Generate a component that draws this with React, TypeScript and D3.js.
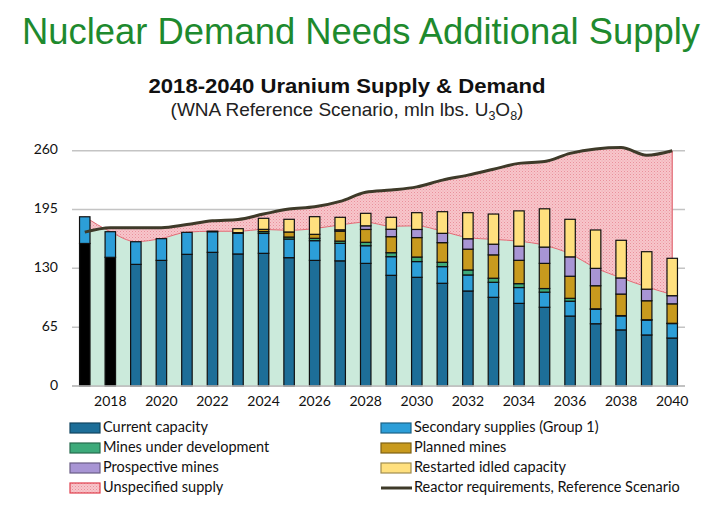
import React from "react";
import * as d3 from "d3";

// ---------- data (mln lbs U3O8) ----------
const years = [2017, 2018, 2019, 2020, 2021, 2022, 2023, 2024, 2025, 2026, 2027, 2028,
  2029, 2030, 2031, 2032, 2033, 2034, 2035, 2036, 2037, 2038, 2039, 2040];
const historicalYears = [2017, 2018];
const tickYears = [2018, 2020, 2022, 2024, 2026, 2028, 2030, 2032, 2034, 2036, 2038, 2040];
const yTicks = [0, 65, 130, 195, 260];

const currentCapacity = [157.5, 142.2, 134.4, 138.8, 145.5, 147.7, 145.9, 146.6, 141.8, 138.8, 138.3, 135.5,
  122.3, 120.1, 113.5, 105, 98, 91.3, 87, 77.3, 68.8, 62, 56.4, 53];
const secondarySupplies = [29.5, 28.3, 25, 24, 24.3, 22.8, 22.8, 22, 20.6, 21.8, 19.3, 19.5,
  20.6, 17.4, 18.4, 17.7, 16.6, 17.5, 16.7, 16.4, 16, 15.5, 16.5, 16];
const minesUnderDevelopment = [0, 0, 0, 0, 0, 0.6, 0.8, 2, 2.2, 2.6, 2.5, 3.8,
  4.4, 5, 4.8, 5.5, 4.5, 4.3, 4, 3.2, 0.5, 0.3, 0.3, 0.3];
const plannedMines = [0, 0, 0, 0, 0, 0, 0, 2.5, 5.6, 4.4, 11, 14.2,
  17.7, 21.5, 21.7, 23, 25.8, 25.8, 27.8, 24.4, 25.5, 23.8, 21, 21.5];
const prospectiveMines = [0, 0, 0, 0, 0, 0, 0, 0, 0, 0, 1.5, 4,
  8.2, 9, 10.3, 11.5, 11.8, 15.6, 18, 21.4, 19.2, 17.8, 12.8, 9];
const restartedIdled = [0, 0, 0, 0, 0, 0, 4.3, 12.2, 14, 19.5, 13.8, 13.8,
  13.2, 18.5, 23.9, 28.8, 33.3, 39, 42.3, 41.5, 42.4, 41.6, 41.4, 41.3];
// lower edge of unspecified supply (top of the identified-supply area)
const identifiedSupply = [187, 170.5, 159.5, 163, 170, 171, 171, 173, 172, 174, 178, 181,
  176.5, 177, 171, 164, 162, 160, 155.5, 146, 130.5, 119.5, 109.5, 101];
const reactorRequirements = [170, 175, 175, 175, 178.5, 182.5, 184, 190, 195.5, 198, 204, 214,
  216.5, 220, 227.5, 233, 239.5, 246, 248, 257, 262, 263.5, 255, 260];

const seriesKeys = ["current", "secondary", "mud", "planned", "prospective", "restarted"];
const seriesLabels = ["Current capacity", "Secondary supplies (Group 1)", "Mines under development",
  "Planned mines", "Prospective mines", "Restarted idled capacity"];
const seriesColors = ["#1D6E98", "#2C9ED8", "#3DAA7A", "#C89A1E", "#A895D4", "#FFE07E"];
const historicalColor = "#000000";

export default function App() {
  const W = 725, H = 507;
  const left = 72, right = 685, y0 = 386, yTop = 150.7;

  const x = d3.scaleBand<number>().domain(years).range([left, right])
    .paddingInner(0.59).paddingOuter(0.295);
  const y = d3.scaleLinear().domain([0, 260]).range([y0, yTop]);
  const cx = (yr: number) => (x(yr) as number) + x.bandwidth() / 2;

  const rows = years.map((yr, i) => ({
    year: yr,
    current: currentCapacity[i],
    secondary: secondarySupplies[i],
    mud: minesUnderDevelopment[i],
    planned: plannedMines[i],
    prospective: prospectiveMines[i],
    restarted: restartedIdled[i],
  }));
  const stacked = d3.stack<any>().keys(seriesKeys)(rows);

  const pts = years.map((yr, i) => ({ yr, id: identifiedSupply[i], re: reactorRequirements[i] }));
  const curve = d3.curveMonotoneX;
  const greenArea = d3.area<any>().x((d) => cx(d.yr)).y0(y(0)).y1((d) => y(d.id)).curve(curve)(pts)!;
  const pinkArea = d3.area<any>().x((d) => cx(d.yr)).y0((d) => y(d.id)).y1((d) => y(d.re)).curve(curve)(pts)!;
  const idLine = d3.line<any>().x((d) => cx(d.yr)).y((d) => y(d.id)).curve(curve)(pts)!;
  const reLine = d3.line<any>().x((d) => cx(d.yr)).y((d) => y(d.re)).curve(curve)(pts)!;
  const lastX = cx(years[years.length - 1]);

  const font = "Lato, 'Open Sans', sans-serif";
  const arial = "'Liberation Sans', Arial, sans-serif";

  const legendItems = [
    { label: seriesLabels[0], kind: "rect", color: seriesColors[0], col: 0, row: 0 },
    { label: seriesLabels[1], kind: "rect", color: seriesColors[1], col: 1, row: 0 },
    { label: seriesLabels[2], kind: "rect", color: seriesColors[2], col: 0, row: 1 },
    { label: seriesLabels[3], kind: "rect", color: seriesColors[3], col: 1, row: 1 },
    { label: seriesLabels[4], kind: "rect", color: seriesColors[4], col: 0, row: 2 },
    { label: seriesLabels[5], kind: "rect", color: seriesColors[5], col: 1, row: 2 },
    { label: "Unspecified supply", kind: "pink", color: "#F5C1C6", col: 0, row: 3 },
    { label: "Reactor requirements, Reference Scenario", kind: "line", color: "#3E3A29", col: 1, row: 3 },
  ];
  const legCols = [70, 381];
  const legRows = [428, 448, 468, 488];

  return (
    <svg width={W} height={H} style={{ position: "absolute", left: 0, top: 0, background: "#fff" }}>
      <defs>
        <pattern id="pinkDots" width="3" height="3" patternUnits="userSpaceOnUse">
          <rect width="3" height="3" fill="#F7C6CB" />
          <rect x="0" y="0" width="1" height="1" fill="#EA909B" />
          <rect x="1.5" y="1.5" width="1" height="1" fill="#EFA3AC" />
        </pattern>
      </defs>

      {/* titles */}
      <text x={22} y={44} fontFamily={arial} fontSize={36} fill="#1E8A2E"
        textLength={678} lengthAdjust="spacingAndGlyphs">Nuclear Demand Needs Additional Supply</text>
      <text x={347} y={93} textAnchor="middle" fontFamily={arial} fontSize={20.5} fontWeight="bold" fill="#111"
        textLength={397} lengthAdjust="spacingAndGlyphs">2018-2040 Uranium Supply &amp; Demand</text>
      <text x={347} y={116} textAnchor="middle" fontFamily={arial} fontSize={19} fill="#222">
        (WNA Reference Scenario, mln lbs. U
        <tspan fontSize={12.5} dy={4}>3</tspan>
        <tspan dy={-4}>O</tspan>
        <tspan fontSize={12.5} dy={4}>8</tspan>
        <tspan dy={-4}>)</tspan>
      </text>

      {/* gridlines */}
      {yTicks.map((t) => (
        <line key={t} x1={left} x2={right} y1={y(t)} y2={y(t)} stroke="#C4C4C4" strokeWidth={1.5} />
      ))}
      {yTicks.map((t) => (
        <text key={"yl" + t} x={58} y={y(t)} textAnchor="end" dominantBaseline="middle"
          fontFamily={font} fontSize={14} fill="#111">{t}</text>
      ))}

      {/* areas */}
      <path d={greenArea} fill="#CBEADB" />
      <path d={pinkArea} fill="url(#pinkDots)" />
      <path d={idLine} fill="none" stroke="#E26A74" strokeWidth={1} />
      <line x1={lastX} x2={lastX} y1={y(identifiedSupply[identifiedSupply.length - 1])}
        y2={y(reactorRequirements[reactorRequirements.length - 1])} stroke="#E26A74" strokeWidth={1.2} />

      {/* bars */}
      {stacked.map((s, si) =>
        s.map((d: any, i: number) => {
          const h = y(d[0]) - y(d[1]);
          if (h <= 0.05) return null;
          const yr = years[i];
          const fill = si === 0 && historicalYears.includes(yr) ? historicalColor : seriesColors[si];
          return (
            <rect key={si + "-" + i} x={x(yr)} y={y(d[1])} width={x.bandwidth()} height={h}
              fill={fill} stroke="#111" strokeWidth={1.2} />
          );
        })
      )}

      {/* reactor requirements */}
      <path d={reLine} fill="none" stroke="#3E3A29" strokeWidth={3} strokeLinejoin="round" />

      {/* x axis */}
      <line x1={left} x2={right} y1={y0} y2={y0} stroke="#BDBDBD" strokeWidth={1.5} />
      {tickYears.map((t) => (
        <text key={t} x={cx(t)} y={402} textAnchor="middle" dominantBaseline="middle"
          fontFamily={font} fontSize={14} fill="#111">{t}</text>
      ))}

      {/* legend */}
      {legendItems.map((it, i) => {
        const lx = legCols[it.col];
        const ly = legRows[it.row];
        return (
          <g key={i}>
            {it.kind === "rect" && (
              <rect x={lx} y={ly - 5} width={30} height={10} fill={it.color}
                stroke={d3.color(it.color)!.darker(1.3).toString()} strokeWidth={1.2} />
            )}
            {it.kind === "pink" && (
              <rect x={lx} y={ly - 5} width={30} height={10} fill="url(#pinkDots)" stroke="#E0404E" strokeWidth={1.2} />
            )}
            {it.kind === "line" && (
              <line x1={lx} x2={lx + 31} y1={ly} y2={ly} stroke={it.color} strokeWidth={3} />
            )}
            <text x={lx + 33} y={ly} dominantBaseline="middle" fontFamily={font} fontSize={14.5} fill="#111">
              {it.label}
            </text>
          </g>
        );
      })}
    </svg>
  );
}
